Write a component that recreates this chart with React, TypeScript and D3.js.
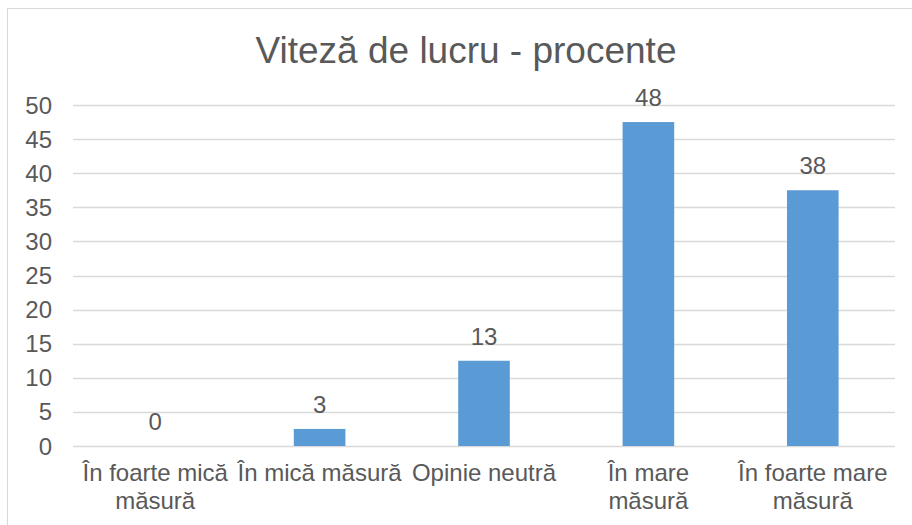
import { useEffect, useRef } from "react";
import * as d3 from "d3";

// date
const categories = [
  "În foarte mică măsură",
  "În mică măsură",
  "Opinie neutră",
  "În mare măsură",
  "În foarte mare măsură",
];
const categoryLines = [
  ["În foarte mică", "măsură"],
  ["În mică măsură"],
  ["Opinie neutră"],
  ["În mare", "măsură"],
  ["În foarte mare", "măsură"],
];
const values = [0, 2.5, 12.5, 47.5, 37.5];
const valueLabels = ["0", "3", "13", "48", "38"];
const yTicks = [0, 5, 10, 15, 20, 25, 30, 35, 40, 45, 50];
const title = "Viteză de lucru - procente";

const App = () => {
  const ref = useRef<SVGSVGElement>(null);

  useEffect(() => {
    const width = 912;
    const height = 525;
    const left = 73;
    const right = 895;
    const top = 105;
    const bottom = 446;
    const textColor = "#595959";
    const font = "'Liberation Sans', Arial, sans-serif";

    const svg = d3
      .select(ref.current)
      .attr("width", width)
      .attr("height", height)
      .style("font-family", font);
    svg.selectAll("*").remove();

    svg
      .append("rect")
      .attr("width", width)
      .attr("height", height)
      .attr("fill", "white");

    // chenar
    svg
      .append("rect")
      .attr("x", 7.5)
      .attr("y", 8.5)
      .attr("width", width)
      .attr("height", height)
      .attr("fill", "none")
      .attr("stroke", "#d9d9d9");

    const x = d3
      .scaleBand()
      .domain(categories)
      .range([left, right])
      .paddingInner(0.686)
      .paddingOuter(0.343);

    const y = d3.scaleLinear().domain([0, 50]).range([bottom, top]);

    // titlu
    svg
      .append("text")
      .attr("x", 466)
      .attr("y", 63)
      .attr("text-anchor", "middle")
      .attr("font-size", 37)
      .attr("fill", textColor)
      .text(title);

    // linii de grilă
    svg
      .append("g")
      .selectAll("line")
      .data(yTicks)
      .join("line")
      .attr("x1", left)
      .attr("x2", right)
      .attr("y1", (d) => Math.round(y(d)) + 0.5)
      .attr("y2", (d) => Math.round(y(d)) + 0.5)
      .attr("stroke", "#d9d9d9")
      .attr("stroke-width", 1.5);

    // etichete axa y
    svg
      .append("g")
      .selectAll("text")
      .data(yTicks)
      .join("text")
      .attr("x", 52)
      .attr("y", (d) => y(d) + 8.5)
      .attr("text-anchor", "end")
      .attr("font-size", 24)
      .attr("fill", textColor)
      .text((d) => d);

    // bare
    svg
      .append("g")
      .selectAll("rect")
      .data(values)
      .join("rect")
      .attr("x", (d, i) => x(categories[i])!)
      .attr("y", (d) => y(d))
      .attr("width", x.bandwidth())
      .attr("height", (d) => y(0) - y(d))
      .attr("fill", "#5b9bd5");

    // etichete valori
    svg
      .append("g")
      .attr("text-anchor", "middle")
      .selectAll("text")
      .data(values)
      .join("text")
      .attr("x", (d, i) => x(categories[i])! + x.bandwidth() / 2)
      .attr("y", (d) => y(d) - 16)
      .attr("font-size", 24)
      .attr("fill", textColor)
      .text((d, i) => valueLabels[i]);

    // etichete categorii
    svg
      .append("g")
      .attr("text-anchor", "middle")
      .selectAll("text")
      .data(categoryLines)
      .join("text")
      .attr("font-size", 24)
      .attr("fill", textColor)
      .each(function (lines, i) {
        const cx = x(categories[i])! + x.bandwidth() / 2;
        d3.select(this)
          .selectAll("tspan")
          .data(lines)
          .join("tspan")
          .attr("x", cx)
          .attr("y", (d, j) => 481 + j * 28)
          .text((d) => d);
      });
  }, []);

  return (
    <svg
      ref={ref}
      style={{ position: "absolute", left: 0, top: 0, display: "block" }}
    />
  );
};

export default App;
